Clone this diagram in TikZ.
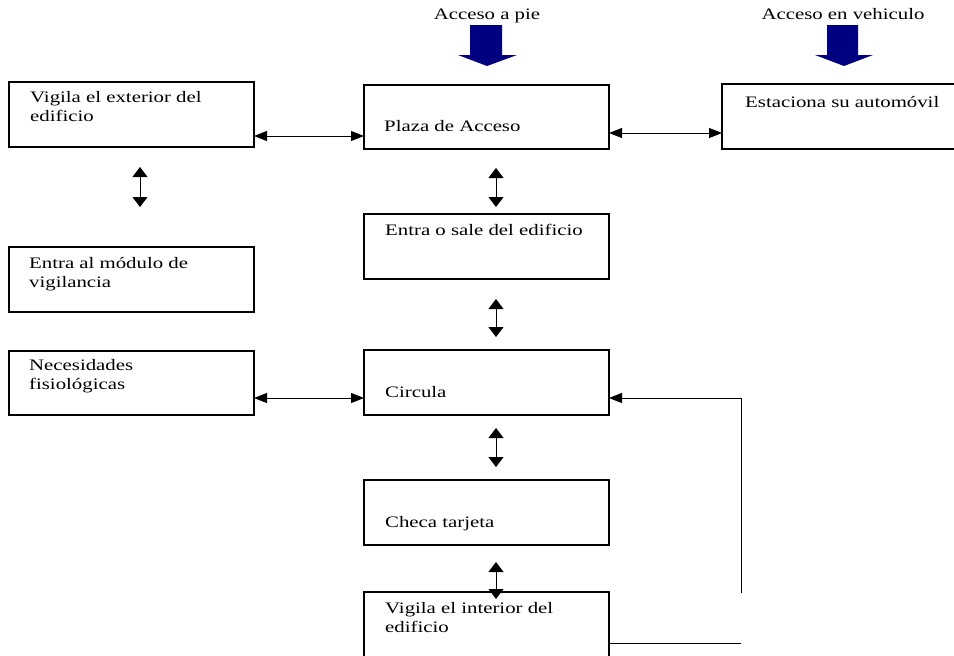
\documentclass[tikz,border=0pt]{standalone}
\usepackage{fontspec}
\setmainfont[FakeStretch=1.3]{Liberation Serif}
\usetikzlibrary{arrows.meta}
\definecolor{navyarrow}{RGB}{0,0,128}
\tikzset{
  box/.style={draw=black, line width=1.2pt, minimum width=245pt, minimum height=65pt, inner sep=0pt, outer sep=0pt},
  lbl/.style={anchor=base west, inner sep=0pt, align=left, font=\fontsize{16}{18.5}\selectfont},
  toplbl/.style={anchor=base, inner sep=0pt, font=\fontsize{16}{18.5}\selectfont},
  harr/.style={line width=1pt, {Triangle[length=13pt,width=10pt]}-{Triangle[length=13pt,width=10pt]}},
  varr/.style={line width=1pt, {Triangle[length=10pt,width=15pt]}-{Triangle[length=10pt,width=15pt]}},
  loopline/.style={line width=1pt},
  looparr/.style={line width=1pt, -{Triangle[length=13pt,width=10pt]}},
  bigarrow/.style={fill=navyarrow}
}
\begin{document}
\begin{tikzpicture}[x=1pt,y=-1pt]
\useasboundingbox (0,0) rectangle (954,656);
\clip (0,0) rectangle (954,656);

% boxes
\node[box] (ext) at (131.5,114.5) {};
\node[box, minimum height=64pt] (plaza) at (486.5,117) {};
\node[box, minimum width=238pt] (est) at (841,116.5) {};
\node[box] (entra) at (486.5,246.5) {};
\node[box] (modulo) at (131.5,279.5) {};
\node[box, minimum height=64pt] (nec) at (131.5,383) {};
\node[box] (circ) at (486.5,382.5) {};
\node[box] (checa) at (486.5,512.5) {};
\node[box] (inter) at (486.5,624.5) {};

% labels (multi-line labels: base = last line)
\node[toplbl] (tpie) at (487,19) {Acceso a pie};
\node[toplbl] (tveh) at (843,19) {Acceso en vehiculo};
\node[lbl] (text) at (30,121) {Vigila el exterior del\\edificio};
\node[lbl] (tplaza) at (384,131) {Plaza de Acceso};
\node[lbl] (test) at (745,107) {Estaciona su automóvil};
\node[lbl] (tentra) at (385,235) {Entra o sale del edificio};
\node[lbl] (tmod) at (29,287) {Entra al módulo de\\vigilancia};
\node[lbl] (tnec) at (29,389) {Necesidades\\fisiológicas};
\node[lbl] (tcirc) at (385,397) {Circula};
\node[lbl] (tcheca) at (385,527) {Checa tarjeta};
\node[lbl] (tinter) at (385,632) {Vigila el interior del\\edificio};

% big blue arrows
\fill[bigarrow] (470,25) -- (502,25) -- (502,55) -- (517,55) -- (487,66) -- (458,55) -- (470,55) -- cycle;
\fill[bigarrow] (827,25) -- (858,25) -- (858,55) -- (873,55) -- (844,66) -- (815,55) -- (827,55) -- cycle;

% horizontal connectors
\draw[harr] ([yshift=-21.5pt]ext.east) -- ([yshift=-19pt]plaza.west);
\draw[harr] ([yshift=-16pt]plaza.east) -- ([yshift=-16.5pt]est.west);
\draw[harr] ([yshift=-15pt]nec.east) -- ([yshift=-15.5pt]circ.west);

% vertical connectors (free floating)
\draw[varr] ([xshift=8.5pt,yshift=-20pt]ext.south) -- ([xshift=8.5pt,yshift=40pt]modulo.north);
\draw[varr] ([xshift=9.5pt,yshift=-19pt]plaza.south) -- ([xshift=9.5pt,yshift=7pt]entra.north);
\draw[varr] ([xshift=9.5pt,yshift=-20pt]entra.south) -- ([xshift=9.5pt,yshift=13pt]circ.north);
\draw[varr] ([xshift=9.5pt,yshift=-13pt]circ.south) -- ([xshift=9.5pt,yshift=13pt]checa.north);
\draw[varr] ([xshift=9.5pt,yshift=-17pt]checa.south) -- ([xshift=9.5pt,yshift=-7pt]inter.north);

% return loop
\coordinate (lb) at (741,643);
\coordinate (lt) at (741,593);
\coordinate (lc) at (741,398);
\draw[loopline] (inter.east |- lb) -- (lb);
\draw[looparr] (lt) -- (lc) -- (circ.east |- lc);
\end{tikzpicture}
\end{document}
